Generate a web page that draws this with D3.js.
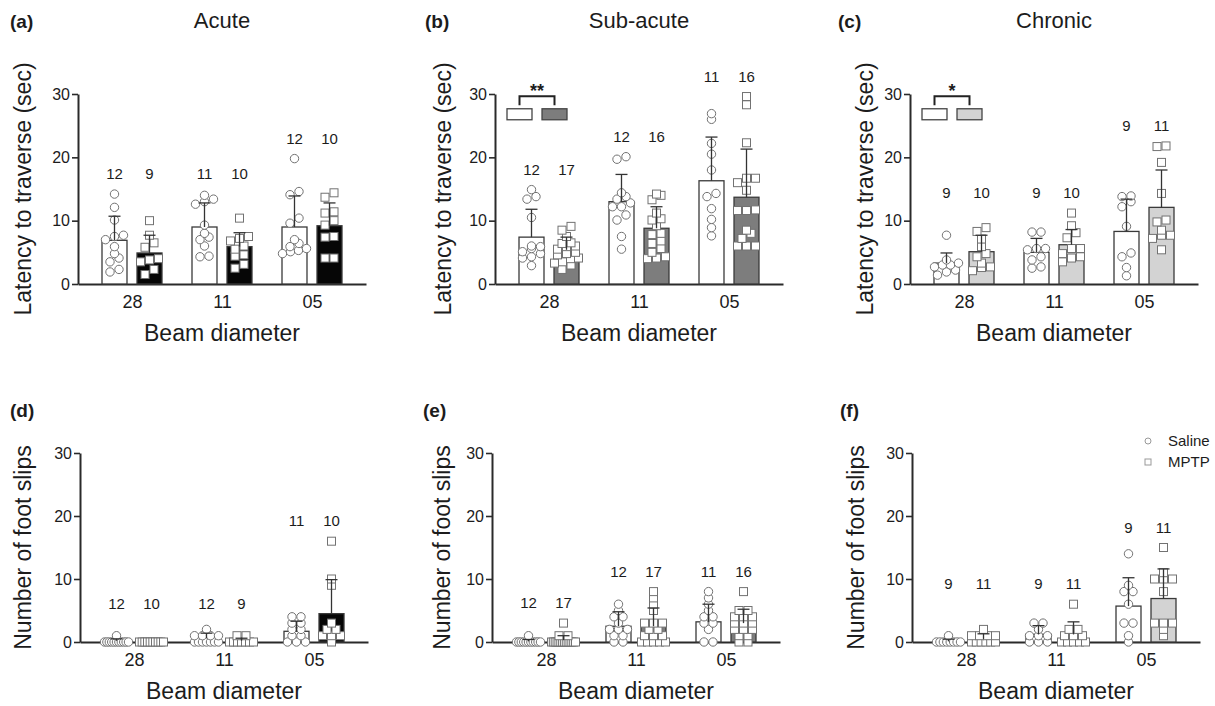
<!DOCTYPE html>
<html>
<head>
<meta charset="utf-8">
<script src="https://cdn.jsdelivr.net/npm/d3@7"></script>
<style>
  body { margin: 0; background: #fff; }
  svg { display: block; font-family: "Liberation Sans", Arial, Helvetica, sans-serif; }
</style>
</head>
<body>
<svg id="chart" width="1215" height="706"></svg>
<script>
// values
const groups = ['28', '11', '05'];
const series = ['Saline', 'MPTP'];
const panelTags = ['(a)', '(b)', '(c)', '(d)', '(e)', '(f)'];
const phaseTitles = ['Acute', 'Sub-acute', 'Chronic'];
const yTitles = ['Latency to traverse (sec)', 'Number of foot slips'];
const xTitle = 'Beam diameter';
const yTicks = [0, 10, 20, 30];
const sigStars = ['', '**', '*', '', '', ''];
const sigBoxLevel = 26.8;

// [saline per beam, MPTP per beam]
const latencyAcuteMean = [[6.9, 9.0, 9.0], [4.9, 5.9, 9.2]];
const latencyAcuteSD = [[3.8, 3.8, 4.9], [2.8, 2.2, 3.6]];
const latencyAcutePts = [
  [[14.2, 12.1, 10.1, 7.7, 7.5, 7.0, 5.9, 4.8, 4.1, 3.5, 2.3, 1.9],
   [14.0, 13.4, 13.0, 12.6, 9.3, 8.0, 7.4, 7.0, 6.0, 4.4, 4.3],
   [19.8, 14.6, 14.1, 10.4, 9.6, 7.0, 6.4, 5.9, 5.6, 5.3, 5.1, 4.8]],
  [[10.0, 7.7, 6.5, 5.8, 4.0, 3.8, 3.5, 2.3, 1.5],
   [10.4, 7.5, 7.2, 6.8, 6.0, 5.5, 4.6, 4.4, 3.1, 2.5],
   [14.4, 13.7, 11.4, 11.2, 10.0, 9.3, 7.5, 7.4, 4.1, 4.1]]
];
const latencyAcuteN = [[12, 11, 12], [9, 10, 10]];

const latencySubMean = [[7.4, 13.0, 16.3], [5.4, 8.8, 13.7]];
const latencySubSD = [[4.4, 4.3, 6.9], [2.0, 3.4, 7.6]];
const latencySubPts = [
  [[14.9, 13.8, 13.4, 10.5, 6.0, 5.9, 5.6, 5.1, 4.8, 4.3, 4.1, 2.9],
   [20.1, 19.7, 14.4, 13.8, 13.4, 12.8, 12.2, 12.2, 10.9, 10.1, 7.5, 5.5],
   [26.9, 26.0, 22.2, 20.5, 18.0, 14.3, 13.8, 11.9, 10.2, 8.9, 7.6]],
  [[9.1, 8.5, 7.5, 6.5, 6.4, 6.0, 5.9, 5.5, 5.0, 4.8, 4.6, 4.1, 4.0, 3.5, 3.3, 3.0, 2.3],
   [14.2, 14.0, 13.3, 11.2, 10.3, 10.1, 9.2, 8.0, 7.8, 6.8, 6.4, 5.6, 5.0, 4.3, 4.1, 4.0],
   [29.6, 28.3, 22.3, 16.7, 16.7, 16.0, 14.8, 11.7, 11.6, 11.6, 8.5, 8.0, 7.2, 6.0, 6.0, 6.0]]
];
const latencySubN = [[12, 12, 11], [17, 16, 16]];

const latencyChronicMean = [[3.3, 5.0, 8.3], [5.1, 6.2, 12.1]];
const latencyChronicSD = [[1.6, 2.2, 5.1], [2.6, 2.4, 5.9]];
const latencyChronicPts = [
  [[7.7, 3.8, 3.3, 3.0, 3.0, 2.7, 2.2, 1.9, 1.4],
   [8.2, 8.2, 5.6, 5.6, 5.4, 4.3, 3.8, 2.7, 2.5],
   [13.9, 13.8, 13.0, 12.2, 9.1, 4.9, 4.3, 2.6, 1.3]],
  [[8.9, 8.3, 7.1, 5.9, 4.8, 4.3, 3.3, 2.7, 2.6, 2.1],
   [11.2, 9.2, 8.1, 7.3, 5.6, 5.6, 4.8, 4.3, 4.1, 3.5],
   [21.8, 21.7, 19.2, 14.3, 10.1, 9.8, 8.5, 7.7, 7.7, 7.2, 5.4]]
];
const latencyChronicN = [[9, 9, 9], [10, 10, 11]];

const slipsAcuteMean = [[0.2, 0.6, 1.7], [0, 0.2, 4.5]];
const slipsAcuteSD = [[0.3, 0.8, 1.6], [0, 0.4, 5.4]];
const slipsAcutePts = [
  [[1, 0, 0, 0, 0, 0, 0, 0, 0, 0, 0, 0],
   [2, 1, 1, 1, 1, 0, 0, 0, 0, 0, 0, 0],
   [4, 4, 3, 3, 2, 2, 1, 1, 0, 0, 0]],
  [[0, 0, 0, 0, 0, 0, 0, 0, 0, 0],
   [1, 1, 0, 0, 0, 0, 0, 0, 0],
   [16, 10, 9, 3, 2, 2, 1, 1, 1, 0]]
];
const slipsAcuteN = [[12, 12, 11], [10, 9, 10]];

const slipsSubMean = [[0.1, 2.5, 3.2], [0.3, 2.5, 3.0]];
const slipsSubSD = [[0.3, 2.3, 2.8], [0.7, 2.9, 2.2]];
const slipsSubPts = [
  [[1, 0, 0, 0, 0, 0, 0, 0, 0, 0, 0, 0],
   [6, 5, 4, 4, 3, 2, 2, 2, 1, 1, 0, 0],
   [8, 7, 6, 5, 4, 4, 3, 3, 2, 0, 0]],
  [[3, 1, 1, 0, 0, 0, 0, 0, 0, 0, 0, 0, 0, 0, 0, 0, 0],
   [8, 7, 6, 5, 3, 3, 3, 2, 2, 1, 1, 1, 0, 0, 0, 0, 0],
   [8, 5, 5, 4, 4, 4, 3, 3, 3, 2, 2, 2, 1, 1, 0, 0]]
];
const slipsSubN = [[12, 12, 11], [17, 17, 16]];

const slipsChronicMean = [[0.1, 1.2, 5.7], [0.5, 1.2, 6.9]];
const slipsChronicSD = [[0.35, 1.4, 4.5], [0.8, 2.0, 4.7]];
const slipsChronicPts = [
  [[1, 0, 0, 0, 0, 0, 0, 0, 0],
   [3, 3, 2, 1, 1, 1, 0, 0, 0],
   [14, 9, 8, 8, 6, 3, 3, 1, 0]],
  [[2, 1, 1, 1, 1, 0, 0, 0, 0, 0, 0],
   [6, 2, 2, 1, 1, 1, 0, 0, 0, 0, 0],
   [15, 11, 10, 10, 10, 8, 3, 3, 3, 2, 1]]
];
const slipsChronicN = [[9, 9, 9], [11, 11, 11]];

const panelMeans = [latencyAcuteMean, latencySubMean, latencyChronicMean, slipsAcuteMean, slipsSubMean, slipsChronicMean];
const panelSDs = [latencyAcuteSD, latencySubSD, latencyChronicSD, slipsAcuteSD, slipsSubSD, slipsChronicSD];
const panelPts = [latencyAcutePts, latencySubPts, latencyChronicPts, slipsAcutePts, slipsSubPts, slipsChronicPts];
const panelNs = [latencyAcuteN, latencySubN, latencyChronicN, slipsAcuteN, slipsSubN, slipsChronicN];

// layout
const W = 288;
const lefts = [[78, 495, 910], [80, 492, 912]];
const rowY = [{ top: 94, bottom: 284 }, { top: 453, bottom: 642 }];
const yTitleOff = [[-47, -44, -37], [-49, -42, -48]];
const tagX = [[10, 425, 838], [10, 423, 840]];
const tagY = [28, 417];
const mptpFill = ['#060606', '#7d7d7d', '#d3d3d3'];
const ink = '#1c1c1c';
const markStroke = '#727272';

const svg = d3.select('#chart');

// spread points of similar value sideways, like a scatter dot plot
function swarm(vals, y) {
  const sorted = vals.slice().sort((a, b) => a - b);
  const rows = [];
  sorted.forEach(v => {
    const last = rows[rows.length - 1];
    if (last && Math.abs(y(v) - y(last[0])) < 5.5) last.push(v);
    else rows.push([v]);
  });
  const out = [];
  rows.forEach(r => {
    const k = r.length;
    const gap = k > 1 ? Math.min(9, 24 / (k - 1)) : 0;
    r.forEach((v, j) => out.push({ v: v, dx: (j - (k - 1) / 2) * gap }));
  });
  return out;
}

panelMeans.forEach((means, i) => {
  const row = Math.floor(i / 3), col = i % 3;
  const x0 = lefts[row][col];
  const sds = panelSDs[i], pts = panelPts[i], ns = panelNs[i];

  const x = d3.scalePoint().domain(groups).range([x0, x0 + W]).padding(0.6);
  const sub = d3.scaleBand().domain(series).range([-30, 30]).paddingInner(0.286);
  const y = d3.scaleLinear().domain([0, 30]).range([rowY[row].bottom, rowY[row].top]);
  const bw = sub.bandwidth();

  const g = svg.append('g');

  // axes
  const yAxis = g.append('g')
    .attr('transform', `translate(${x0},0)`)
    .call(d3.axisLeft(y).tickValues(yTicks).tickSize(6).tickPadding(2).tickSizeOuter(0));
  yAxis.select('.domain').attr('stroke', '#2a2a2a').attr('stroke-width', 2);
  yAxis.selectAll('.tick line').attr('stroke', '#2a2a2a').attr('stroke-width', 1.6);
  yAxis.selectAll('text').style('font-size', '16px').attr('fill', ink);

  const xAxis = g.append('g')
    .attr('transform', `translate(0,${y(0)})`)
    .call(d3.axisBottom(x).tickSize(0).tickPadding(11));
  xAxis.select('.domain').attr('stroke', '#2a2a2a').attr('stroke-width', 2);
  xAxis.selectAll('text').style('font-size', '18px').attr('fill', ink);

  // bars
  series.forEach((s, si) => {
    g.selectAll(null)
      .data(groups)
      .enter()
      .append('rect')
      .attr('x', d => x(d) + sub(s))
      .attr('y', (d, gi) => y(means[si][gi]))
      .attr('width', bw)
      .attr('height', (d, gi) => y(0) - y(means[si][gi]))
      .attr('fill', si === 0 ? '#fff' : mptpFill[col])
      .attr('stroke', '#3a3a3a')
      .attr('stroke-width', 1.3);
  });

  // individual animals
  series.forEach((s, si) => {
    groups.forEach((grp, gi) => {
      const cx = x(grp) + sub(s) + bw / 2;
      const dots = swarm(pts[si][gi], y);
      if (si === 0) {
        g.selectAll(null).data(dots).enter().append('circle')
          .attr('cx', d => cx + d.dx)
          .attr('cy', d => y(d.v))
          .attr('r', 4.2)
          .attr('fill', '#fff')
          .attr('stroke', markStroke)
          .attr('stroke-width', 1);
      } else {
        g.selectAll(null).data(dots).enter().append('rect')
          .attr('x', d => cx + d.dx - 4)
          .attr('y', d => y(d.v) - 4)
          .attr('width', 8)
          .attr('height', 8)
          .attr('fill', '#fff')
          .attr('stroke', markStroke)
          .attr('stroke-width', 1);
      }
    });
  });

  // SD bars (upper half only)
  series.forEach((s, si) => {
    groups.forEach((grp, gi) => {
      if (sds[si][gi] <= 0) return;
      const cx = x(grp) + sub(s) + bw / 2;
      const top = y(means[si][gi] + sds[si][gi]);
      g.append('line')
        .attr('x1', cx).attr('x2', cx)
        .attr('y1', y(means[si][gi])).attr('y2', top)
        .attr('stroke', '#333').attr('stroke-width', 1.3);
      g.append('line')
        .attr('x1', cx - 6).attr('x2', cx + 6)
        .attr('y1', top).attr('y2', top)
        .attr('stroke', '#333').attr('stroke-width', 1.3);
    });
  });

  // n per group
  const level = groups.map((grp, gi) => {
    let m = 0;
    series.forEach((s, si) => {
      m = Math.max(m, d3.max(pts[si][gi]), means[si][gi] + sds[si][gi]);
    });
    return Math.max(m + 3.2, 6);
  });
  for (let gi = 1; gi < level.length; gi++) {
    if (Math.abs(level[gi] - level[gi - 1]) < 4) {
      const h = Math.max(level[gi], level[gi - 1]);
      level[gi] = h; level[gi - 1] = h;
    }
  }
  series.forEach((s, si) => {
    g.selectAll(null)
      .data(groups)
      .enter()
      .append('text')
      .attr('x', d => x(d) + sub(s) + bw / 2)
      .attr('y', (d, gi) => y(level[gi]))
      .attr('dy', '0.35em')
      .attr('text-anchor', 'middle')
      .style('font-size', '15px')
      .attr('fill', ink)
      .text((d, gi) => ns[si][gi]);
  });

  // significance bracket with mini bar key
  if (sigStars[i]) {
    const by = y(sigBoxLevel);
    const centers = series.map(s => x(groups[0]) + sub(s) - 12 + bw / 2);
    series.forEach((s, si) => {
      g.append('rect')
        .attr('x', centers[si] - bw / 2)
        .attr('y', by - 5.5)
        .attr('width', bw)
        .attr('height', 11)
        .attr('fill', si === 0 ? '#fff' : mptpFill[col])
        .attr('stroke', '#444')
        .attr('stroke-width', 1.3);
    });
    const bt = by - 18;
    g.append('path')
      .attr('d', `M${centers[0]},${bt + 9}V${bt}H${centers[1]}V${bt + 9}`)
      .attr('fill', 'none')
      .attr('stroke', '#222')
      .attr('stroke-width', 2);
    g.append('text')
      .attr('x', (centers[0] + centers[1]) / 2)
      .attr('y', bt + 1)
      .attr('text-anchor', 'middle')
      .style('font-size', '18px')
      .style('font-weight', 'bold')
      .attr('fill', ink)
      .text(sigStars[i]);
  }

  // titles
  g.append('text')
    .attr('x', tagX[row][col])
    .attr('y', tagY[row])
    .style('font-size', '19px')
    .style('font-weight', 'bold')
    .attr('fill', ink)
    .text(panelTags[i]);

  if (row === 0) {
    g.append('text')
      .attr('x', x0 + W / 2)
      .attr('y', 28)
      .attr('text-anchor', 'middle')
      .style('font-size', '22px')
      .attr('fill', ink)
      .text(phaseTitles[col]);
  }

  g.append('text')
    .attr('transform', `translate(${x0 + yTitleOff[row][col]},${(y(0) + y(30)) / 2}) rotate(-90)`)
    .attr('text-anchor', 'middle')
    .style('font-size', '23px')
    .attr('fill', ink)
    .text(yTitles[row]);

  g.append('text')
    .attr('x', x0 + W / 2)
    .attr('y', y(0) + 57)
    .attr('text-anchor', 'middle')
    .style('font-size', '23px')
    .attr('fill', ink)
    .text(xTitle);

  // key in the last panel
  if (i === panelMeans.length - 1) {
    const key = g.append('g').attr('transform', 'translate(1148,441)');
    key.append('circle').attr('r', 3).attr('fill', '#fff').attr('stroke', '#999').attr('stroke-width', 1);
    key.append('rect').attr('x', -3).attr('y', 18).attr('width', 6).attr('height', 6)
      .attr('fill', '#fff').attr('stroke', '#999').attr('stroke-width', 1);
    key.selectAll('text.k')
      .data(series)
      .enter()
      .append('text')
      .attr('x', 20)
      .attr('y', (d, k) => k * 21 + 5)
      .style('font-size', '15px')
      .attr('fill', ink)
      .text(d => d);
  }
});
</script>
</body>
</html>
